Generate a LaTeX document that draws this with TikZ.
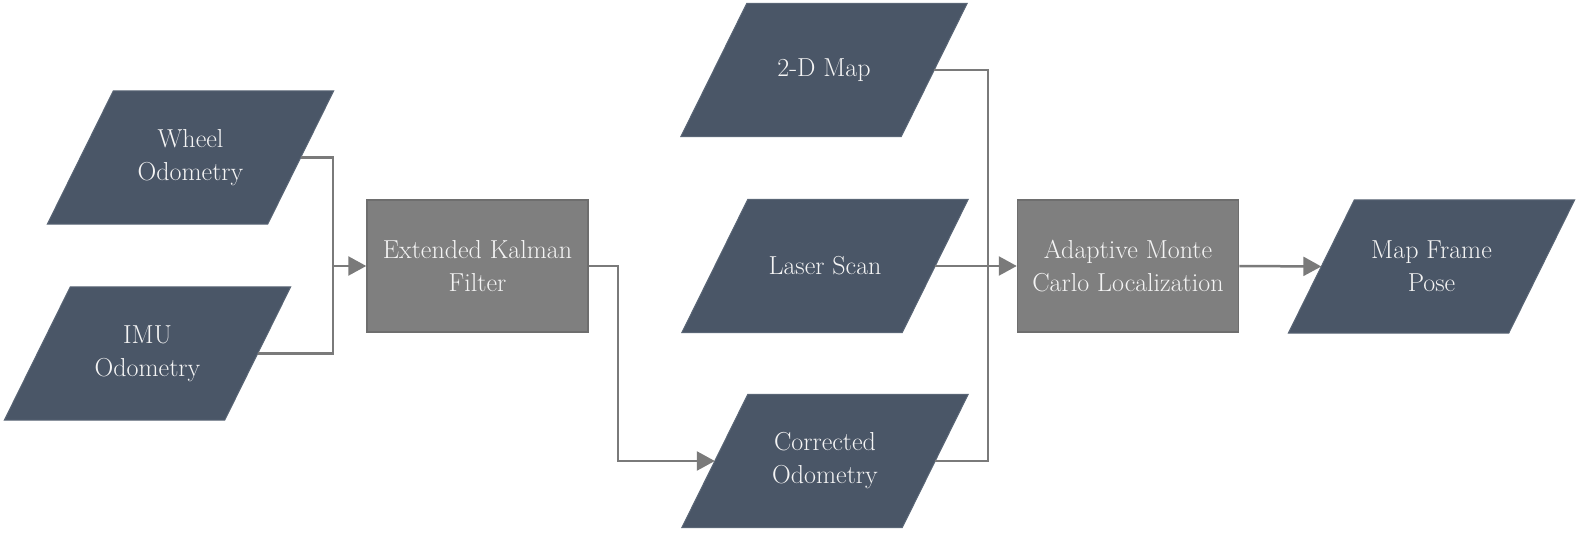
\documentclass[tikz,border=0pt]{standalone}
\usetikzlibrary{arrows.meta}
\definecolor{iofill}{HTML}{4A5667}
\definecolor{ioedge}{HTML}{5A6676}
\definecolor{procfill}{HTML}{7F7F7F}
\definecolor{procedge}{HTML}{6E6E6E}
\definecolor{linecol}{HTML}{7A7A7A}
\definecolor{txt}{HTML}{F4F4F4}
\pgfdeclarelayer{bg}
\pgfsetlayers{bg,main}
\tikzset{
  iobox/.style={rectangle, minimum width=220pt, minimum height=133pt,
    inner sep=0pt, text=txt, align=center, font=\fontsize{26}{33}\selectfont},
  iopara/.style={fill=iofill, draw=ioedge, line width=1pt},
  procbox/.style={rectangle, minimum width=221pt, minimum height=132pt,
    inner sep=0pt, fill=procfill, draw=procedge, line width=1.5pt, text=txt,
    align=center, font=\fontsize{26}{33}\selectfont},
  conn/.style={draw=linecol, line width=2.5pt},
  arr/.style={conn, -{Triangle[length=18pt,width=19pt]}}
}
\newcommand\drawpara[1]{%
  \begin{pgfonlayer}{bg}
    \path[iopara] ([xshift=-33pt]#1.south west) -- ([xshift=-33pt]#1.south east)
      -- ([xshift=33pt]#1.north east) -- ([xshift=33pt]#1.north west) -- cycle;
  \end{pgfonlayer}}
\begin{document}
\begin{tikzpicture}[x=1pt,y=-1pt]
\useasboundingbox (0,0) rectangle (1581,534);
\node[iobox] (wo) at (190.5,157.5) {Wheel\\Odometry};
\node[iobox] (imu) at (147.5,353.5) {IMU\\Odometry};
\node[procbox] (ekf) at (477.5,266) {Extended Kalman\\Filter};
\node[iobox] (map) at (824,70) {2-D Map};
\node[iobox] (ls) at (825,266) {Laser Scan};
\node[iobox] (co) at (825,461) {Corrected\\Odometry};
\node[procbox] (amcl) at (1128,266) {Adaptive Monte\\Carlo Localization};
\node[iobox] (mfp) at (1431.5,266.5) {Map Frame\\Pose};
\drawpara{wo}\drawpara{imu}\drawpara{map}\drawpara{ls}\drawpara{co}\drawpara{mfp}
\coordinate (j1) at (333,266);
\coordinate (j2) at (618,266);
\coordinate (j3) at (988,266);
\draw[conn] (wo.east) -| (j1);
\draw[conn] (imu.east) -| (j1);
\draw[arr] (j1) -- (ekf.west);
\draw[arr] (ekf.east) -- (j2) |- (co.west);
\draw[conn] (map.east) -| (j3);
\draw[conn] (co.east) -| (j3);
\draw[arr] (ls.east) -- (amcl.west);
\draw[arr] (amcl.east) -- (mfp.west);
\end{tikzpicture}
\end{document}
